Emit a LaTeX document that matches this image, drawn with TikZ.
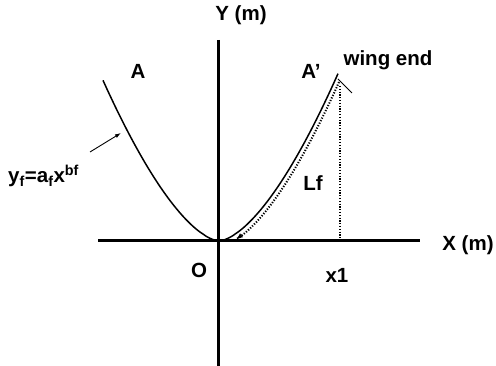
\documentclass[tikz,border=0pt]{standalone}
\usepackage{fontspec}
\setmainfont{Liberation Sans}
\usetikzlibrary{arrows.meta}
\begin{document}
\begin{tikzpicture}[x=1pt,y=-1pt,
  lbl/.style={inner sep=0pt,font=\bfseries\fontsize{20.5}{25}\selectfont},
  axis/.style={line width=3pt},
  curve/.style={line width=1.5pt},
  dots/.style={line width=2pt,dash pattern=on 1.2pt off 1.6pt}]
\useasboundingbox (0,0) rectangle (496,366);
\coordinate (ytop) at (218,40);
\coordinate (ybot) at (218,366);
\coordinate (xl) at (98,241);
\coordinate (xr) at (420,241);
\draw[axis] (ytop) -- (ybot);
\draw[axis] (xl) -- (xr);
% parabola
\draw[curve] plot[domain=-116:119,samples=120,smooth] ({219+\x},{241-164*pow(abs(\x)/117.5,1.6)});
% dotted path along the wing
\draw[dots,-{Latex[length=7pt,width=5pt]}] plot[domain=117:14,samples=60,smooth] ({222+\x},{245-164*pow(abs(\x)/117.5,1.6)});
% wing end tick and vertical
\coordinate (we1) at (338,79);
\coordinate (we2) at (352,93);
\draw[line width=1pt] (we1) -- (we2);
\coordinate (vt) at (340,86);
\coordinate (vb) at (340,239);
\draw[dots] (vt) -- (vb);
% labels
\node[lbl] (ylab) at (241,15) {Y (m)};
\node[lbl] (xlab) at (468,245) {X (m)};
\node[lbl] (A) at (138,71) {A};
\node[lbl] (Ap) at (311,71) {A’};
\node[lbl] (we) at (388,60) {wing end};
\node[lbl] (Lf) at (313,183) {Lf};
\node[lbl] (O) at (199,270) {O};
\node[lbl] (x1) at (337,275) {x1};
\node[lbl,anchor=base west] (eq) at (8,183) {y\textsubscript{f}=a\textsubscript{f}x\textsuperscript{bf}};
\coordinate (ar1) at (90,152);
\coordinate (ar2) at (121,133);
\draw[line width=0.9pt,-{Latex[length=6pt,width=4pt]}] (ar1) -- (ar2);
\end{tikzpicture}
\end{document}
